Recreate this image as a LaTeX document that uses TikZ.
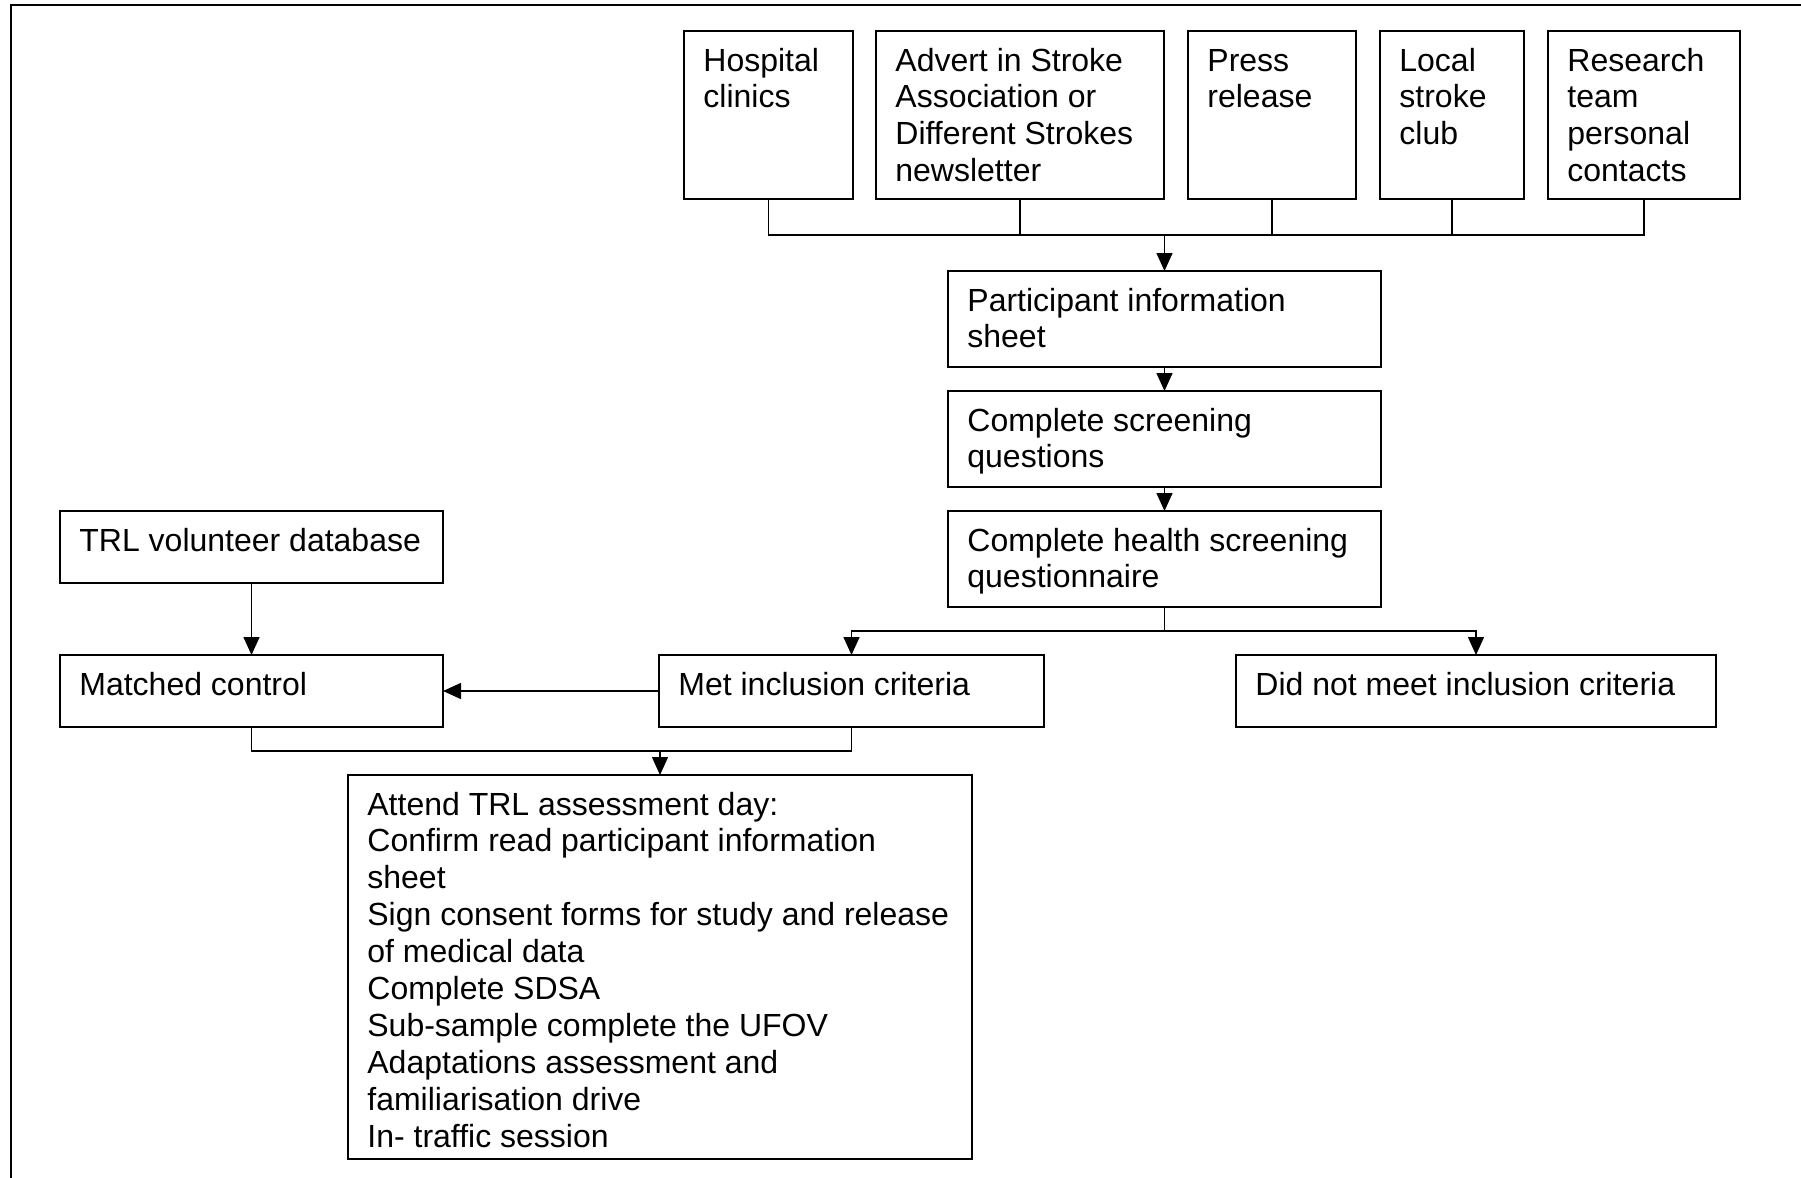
\documentclass[tikz,border=0pt]{standalone}
\usepackage{fontspec}
\setmainfont{Liberation Sans}
\usetikzlibrary{arrows.meta}
\newcommand{\flowbox}[7]{% name, x, y, width(pt), height(pt), text
  \node[boxst, minimum width=#4, minimum height=#5] (#1) at (#2,#3) {};
  \node[txtst] (#1t) at ([shift={(19,40)}]#1.north west) {\begin{tabular}[t]{@{}l@{}}#6\end{tabular}};
}
\begin{document}
\begin{tikzpicture}[x=0.5pt,y=-0.5pt,
  boxst/.style={draw, line width=1pt, anchor=north west, inner sep=0pt, outer sep=0pt, rectangle},
  txtst/.style={anchor=base west, inner sep=0pt, font=\fontsize{16}{18.45}\selectfont},
  conn/.style={line width=0.7pt},
  arr/.style={conn, -{Triangle[length=9pt,width=8pt]}}]
\useasboundingbox (0,0) rectangle (1801,1178);
% outer frame
\draw[line width=1pt] (11,1178) -- (11,5) -- (1801,5);
% boxes
\flowbox{hosp}{684}{31}{84.5pt}{84pt}{Hospital\\clinics}{}
\flowbox{adv}{876}{31}{144pt}{84pt}{Advert in Stroke\\Association or\\Different Strokes\\newsletter}{}
\flowbox{prs}{1188}{31}{84pt}{84pt}{Press\\release}{}
\flowbox{loc}{1380}{31}{72pt}{84pt}{Local\\stroke\\club}{}
\flowbox{res}{1548}{31}{96pt}{84pt}{Research\\team\\personal\\contacts}{}
\flowbox{pis}{948}{271}{216.5pt}{48pt}{Participant information\\sheet}{}
\flowbox{scr}{948}{391}{216.5pt}{48pt}{Complete screening\\questions}{}
\flowbox{hsq}{948}{511}{216.5pt}{48pt}{Complete health screening\\questionnaire}{}
\flowbox{trl}{60}{511}{191.5pt}{36pt}{TRL volunteer database}{}
\flowbox{mat}{60}{655}{191.5pt}{36pt}{Matched control}{}
\flowbox{met}{659}{655}{192.5pt}{36pt}{Met inclusion criteria}{}
\flowbox{dnm}{1236}{655}{240pt}{36pt}{Did not meet inclusion criteria}{}
\flowbox{att}{348}{775}{312pt}{192pt}{Attend TRL assessment day:\\Confirm read participant information\\sheet\\Sign consent forms for study and release\\of medical data\\Complete SDSA\\Sub-sample complete the UFOV\\Adaptations assessment and\\familiarisation drive\\In- traffic session}{}
% junction points
\coordinate (busy) at (0,235);
\coordinate (splity) at (0,631);
\coordinate (mergey) at (0,751);
\coordinate (bus) at (pis.north |- busy);
\coordinate (split) at (hsq.south |- splity);
\coordinate (merge) at (att.north |- mergey);
% connectors
\draw[conn] (hosp.south) |- (bus);
\draw[conn] (res.south) |- (bus);
\draw[conn] (adv.south) -- (adv.south |- bus);
\draw[conn] (prs.south) -- (prs.south |- bus);
\draw[conn] (loc.south) -- (loc.south |- bus);
\draw[arr] (bus) -- (pis.north);
\draw[arr] (pis.south) -- (scr.north);
\draw[arr] (scr.south) -- (hsq.north);
\draw[conn] (hsq.south) -- (split);
\draw[arr] (split) -| (met.north);
\draw[arr] (split) -| (dnm.north);
\draw[arr] (trl.south) -- (mat.north);
\draw[arr] (met.west) -- (mat.east);
\draw[conn] (mat.south) |- (merge);
\draw[conn] (met.south) |- (merge);
\draw[arr] (merge) -- (att.north);
\end{tikzpicture}
\end{document}
